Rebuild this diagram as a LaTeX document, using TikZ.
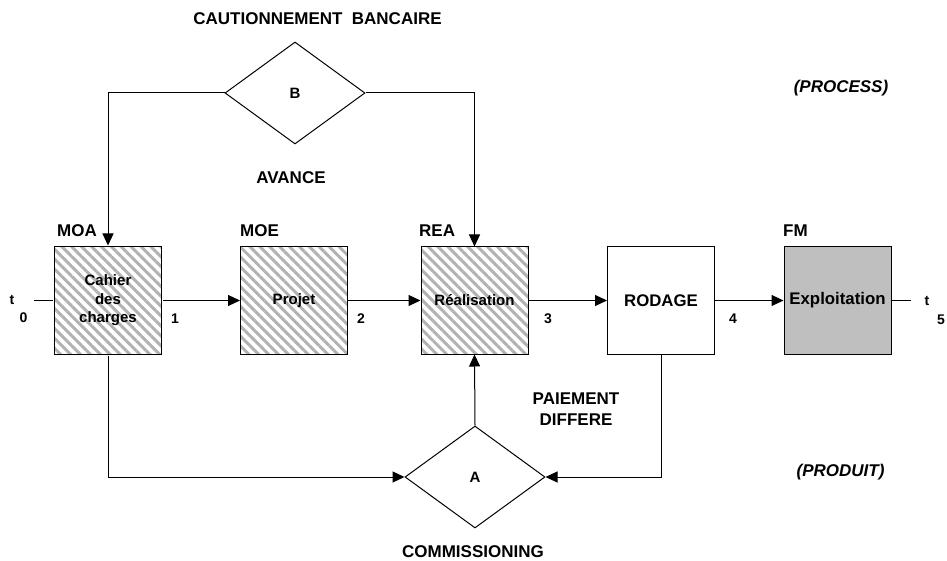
\documentclass[tikz,border=0pt]{standalone}
\usepackage{fontspec}
\setmainfont{Liberation Sans}
\usetikzlibrary{
	arrows.meta,
	positioning,
	shapes.geometric,
	patterns.meta
}
\tikzset{
  % arrow
	cstra/.style      ={-{Triangle[length=12pt,width=11pt]}}, % right arrow
	cstline/.style    ={line width=1pt},
  % node
	cstbox/.style     ={draw=black,line width=1pt,minimum size=107pt,inner sep=0pt,align=center,font=\fontsize{15}{18.5}\selectfont\bfseries},
	cstboxh/.style    ={cstbox,pattern={Lines[angle=-45,distance=7pt,line width=3pt]},pattern color=black!30},
	cstboxg/.style    ={cstbox,fill=black!25},
	cstdiam/.style    ={diamond,draw=black,line width=1pt,minimum width=140pt,minimum height=102pt,inner sep=0pt,font=\fontsize{15}{18}\selectfont\bfseries},
  % text
	csttext/.style    ={inner sep=0pt,align=center,font=\fontsize{17}{21}\selectfont\bfseries},
	csttexti/.style   ={csttext,font=\fontsize{17}{21}\selectfont\bfseries\itshape},
	cstnum/.style     ={inner sep=0pt,font=\fontsize{14}{16}\selectfont\bfseries}
}
\begin{document}
\begin{tikzpicture}[x=1pt,y=-1pt]
	\useasboundingbox (0,0) rectangle (947,561);
	% boites
	\node[cstboxh] (cahier) at (108,300.5) {Cahier\\des\\charges};
	\node[cstboxh] (projet) at (294,300.5) {Projet};
	\node[cstboxh] (rea) at (474.5,300.5) {Réalisation};
	\node[cstbox,font=\fontsize{16.8}{19}\selectfont\bfseries] (rodage) at (661,300.5) {RODAGE};
	\node[cstboxg,font=\fontsize{16.8}{19}\selectfont\bfseries] (expl) at (837.5,300.5) {Exploitation};
	\node[cstdiam] (B) at (295,93) {B};
	\node[cstdiam] (A) at (475,477) {A};
	\coordinate (t0) at (34,300.5);
	\coordinate (t5) at (911,300.5);
	% liaisons
	\draw[cstline] (t0)--(cahier.west);
	\draw[cstline,cstra] (cahier.east)--(projet.west);
	\draw[cstline,cstra] (projet.east)--(rea.west);
	\draw[cstline,cstra] (rea.east)--(rodage.west);
	\draw[cstline,cstra] (rodage.east)--(expl.west);
	\draw[cstline] (expl.east)--(t5);
	\draw[cstline,cstra] (B.west)-|(cahier.north);
	\draw[cstline,cstra] (B.east)-|(rea.north);
	\draw[cstline,cstra] (cahier.south)|-(A.west);
	\draw[cstline,cstra] (rodage.south)|-(A.east);
	\draw[cstline,cstra] (A.north)--(rea.south);
	% etiquettes
	\node[csttext,anchor=west] (moa) at (57,231) {MOA};
	\node[csttext,anchor=west] (moe) at (240,231) {MOE};
	\node[csttext,anchor=west] (rea lbl) at (419,231) {REA};
	\node[csttext,anchor=west] (fm) at (783,231) {FM};
	\node[cstnum] (t0 lbl) at (12,300) {t};
	\node[cstnum] (n0) at (23.5,318) {0};
	\node[cstnum] (n1) at (175,319) {1};
	\node[cstnum] (n2) at (361,319) {2};
	\node[cstnum] (n3) at (548,319) {3};
	\node[cstnum] (n4) at (733,319) {4};
	\node[cstnum] (t5 lbl) at (927,301) {t};
	\node[cstnum] (n5) at (941,320) {5};
	\node[csttext] (caution) at (317.5,19) {CAUTIONNEMENT\hspace{0.55em}BANCAIRE};
	\node[csttext] (avance) at (291,178) {AVANCE};
	\node[csttext] (paiement) at (576,409) {PAIEMENT\\DIFFERE};
	\node[csttext] (commission) at (473,552) {COMMISSIONING};
	\node[csttexti] (process) at (841,88) {(PROCESS)};
	\node[csttexti] (produit) at (840.5,472) {(PRODUIT)};
\end{tikzpicture}
\end{document}
